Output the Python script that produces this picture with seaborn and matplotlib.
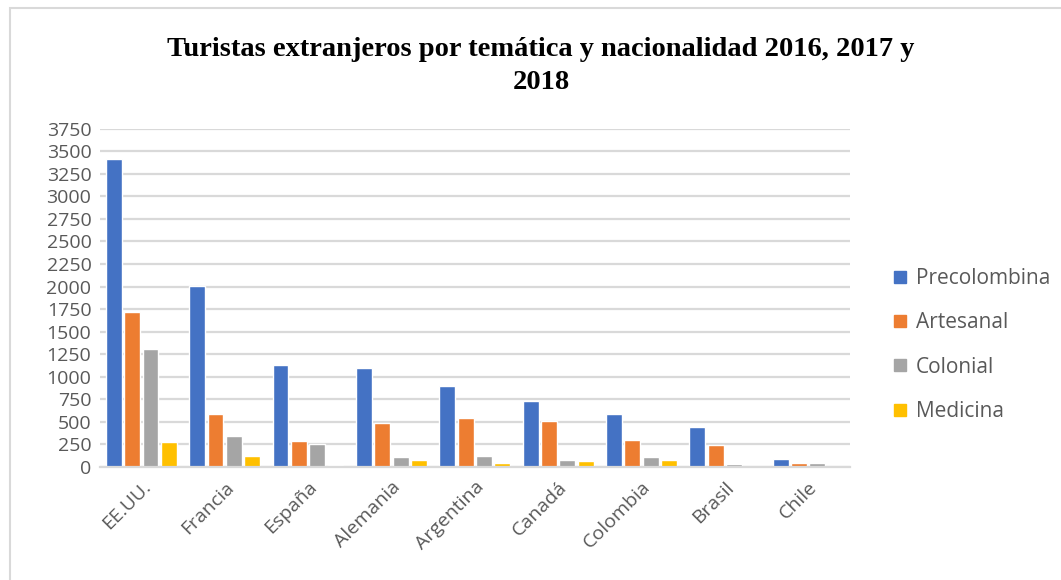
import matplotlib
matplotlib.use("Agg")
import matplotlib.pyplot as plt
import seaborn as sns
import pandas as pd
from matplotlib.patches import Rectangle
from matplotlib.lines import Line2D

paises = ["EE.UU.", "Francia", "España", "Alemania", "Argentina", "Canadá", "Colombia", "Brasil", "Chile"]
precolombina = [3420, 2010, 1130, 1100, 900, 730, 585, 440, 90]
artesanal = [1720, 590, 290, 485, 540, 510, 300, 245, 45]
colonial = [1310, 345, 250, 105, 120, 75, 115, 30, 45]
medicina = [275, 120, 20, 75, 45, 60, 75, 0, 0]
series = ["Precolombina", "Artesanal", "Colonial", "Medicina"]
colores = ["#4472C4", "#ED7D31", "#A5A5A5", "#FFC000"]
yticks = list(range(0, 3751, 250))

rows = []
for s, vals in zip(series, [precolombina, artesanal, colonial, medicina]):
    for p, v in zip(paises, vals):
        rows.append({"pais": p, "serie": s, "valor": v})
df = pd.DataFrame(rows)

sns.set_theme(style="white")
plt.rcParams["font.family"] = ["Open Sans", "DejaVu Sans"]

fig = plt.figure(figsize=(10.61, 5.80), dpi=100)
ax = fig.add_axes([0.094, 0.195, 0.707, 0.583])

sns.barplot(data=df, x="pais", y="valor", hue="serie", order=paises,
            hue_order=series, palette=colores, width=0.88, gap=0.14,
            ax=ax, legend=False, saturation=1)

ax.set_ylim(0, 3750)
ax.set_xlim(-0.5, len(paises) - 0.5)
ax.set_yticks(yticks)
ax.set_yticklabels([str(t) for t in yticks], fontsize=14, color="#595959")
ax.set_xticks(range(len(paises)))
ax.set_xticklabels(paises, rotation=45, ha="right", rotation_mode="anchor",
                   fontsize=14, color="#595959")
ax.tick_params(axis="y", length=0, pad=6)
ax.tick_params(axis="x", length=0, pad=8)
ax.yaxis.grid(True, color="#D9D9D9", linewidth=1.6)
ax.set_axisbelow(True)
for side in ["top", "right", "left"]:
    ax.spines[side].set_visible(False)
ax.spines["bottom"].set_color("#D9D9D9")
ax.spines["bottom"].set_linewidth(1.6)
ax.set_xlabel("")
ax.set_ylabel("")

fig.text(0.51, 0.886, "Turistas extranjeros por temática y nacionalidad 2016, 2017 y\n2018",
         ha="center", va="center", fontsize=20.5, fontweight="bold",
         family="Liberation Serif", color="#000000", linespacing=1.4)

handles = [Line2D([0], [0], marker="s", linestyle="", markersize=9,
                  markerfacecolor=c, markeredgecolor=c) for c in colores]
leg = fig.legend(handles, series, loc="center left", bbox_to_anchor=(0.821, 0.405),
                 frameon=False, fontsize=15, labelspacing=1.12,
                 handletextpad=0.25, handlelength=1.0)
for t in leg.get_texts():
    t.set_color("#595959")

fig.patches.append(Rectangle((0.009, -0.01), 1.0, 0.997, transform=fig.transFigure,
                             fill=False, edgecolor="#D9D9D9", linewidth=1.5))

fig.savefig("out.png", dpi=100)
